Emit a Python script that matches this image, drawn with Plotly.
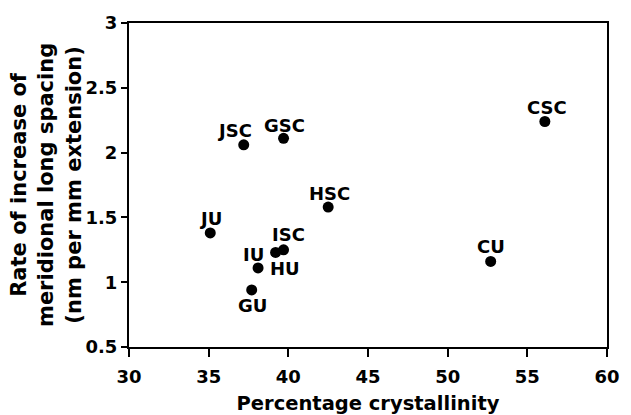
import plotly.graph_objects as go

# Samples: percentage crystallinity vs rate of increase of meridional long spacing
samples = ["JSC", "GSC", "HSC", "JU", "ISC", "IU", "HU", "GU", "CSC", "CU"]
crystallinity = [37.2, 39.7, 42.5, 35.1, 39.7, 39.2, 38.1, 37.7, 56.1, 52.7]
rate = [2.06, 2.11, 1.58, 1.38, 1.25, 1.23, 1.11, 0.94, 2.24, 1.16]

# Label offsets (pixels) from each marker
label_dx = [-9, 1, 1, 0, 5, -22, 27, 1, 2, 0]
label_dy = [14, 13, 14, 14, 15, -2, -1, -16, 14, 15]

x_ticks = [30, 35, 40, 45, 50, 55, 60]
y_ticks = [0.5, 1, 1.5, 2, 2.5, 3]
y_tick_text = ["0.5", "1", "1.5", "2", "2.5", "3"]

FONT = "DejaVu Sans"
ML, MR, MT, MB = 129, 24, 23, 68
W, H = 631, 415

fig = go.Figure()
fig.add_trace(go.Scatter(
    x=crystallinity, y=rate, mode="markers",
    marker=dict(color="black", size=11),
    showlegend=False, hoverinfo="skip",
))

for name, xv, yv, dx, dy in zip(samples, crystallinity, rate, label_dx, label_dy):
    fig.add_annotation(
        x=xv, y=yv, text=f"<b>{name}</b>", showarrow=False,
        xshift=dx, yshift=dy, xanchor="center", yanchor="middle",
        font=dict(family=FONT, size=18, color="black"),
    )

# Three-line y-axis title, centred on the plot height
y_title = "<b>Rate of increase of<br>meridional long spacing<br>(nm per mm extension)</b>"
fig.add_annotation(
    xref="paper", yref="paper", x=(46 - ML) / (W - ML - MR), y=0.5,
    text=y_title, showarrow=False, textangle=-90,
    xanchor="center", yanchor="middle", align="center",
    font=dict(family=FONT, size=21, color="black"),
)

fig.update_layout(
    width=W, height=H,
    margin=dict(l=ML, r=MR, t=MT, b=MB),
    paper_bgcolor="white", plot_bgcolor="white",
    font=dict(family=FONT, color="black"),
    xaxis=dict(
        range=[30, 60], tickvals=x_ticks, ticktext=[f"<b>{v}</b>" for v in x_ticks],
        showline=True, linecolor="black", linewidth=2, mirror=True,
        ticks="outside", ticklen=8, tickwidth=2, tickcolor="black",
        ticklabelstandoff=4, automargin=False,
        showgrid=False, zeroline=False,
        tickfont=dict(family=FONT, size=18, color="black"),
        title=dict(text="<b>Percentage crystallinity</b>", standoff=12,
                   font=dict(family=FONT, size=19.5, color="black")),
    ),
    yaxis=dict(
        range=[0.5, 3], tickvals=y_ticks, ticktext=[f"<b>{t}</b>" for t in y_tick_text],
        showline=True, linecolor="black", linewidth=2, mirror=True,
        ticks="outside", ticklen=6, tickwidth=2, tickcolor="black",
        automargin=False,
        showgrid=False, zeroline=False,
        tickfont=dict(family=FONT, size=18, color="black"),
    ),
)

fig.write_html("out.html")
